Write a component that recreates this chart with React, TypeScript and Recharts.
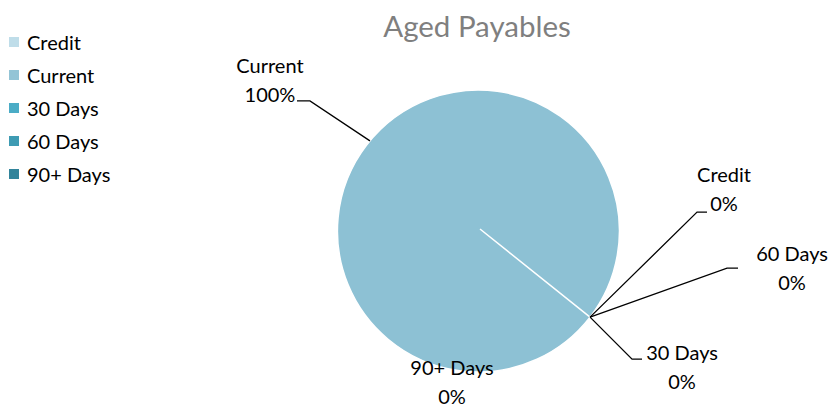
import { PieChart, Pie, Cell } from 'recharts';

const categories = ['Credit', 'Current', '30 Days', '60 Days', '90+ Days'];
const values = [0, 100, 0, 0, 0];
const percentLabels = ['0%', '100%', '0%', '0%', '0%'];

const LEGEND_COLORS = ['#bfdde9', '#93c4d6', '#4bacc6', '#3e9bb3', '#31849b'];
const SLICE_COLORS = ['#bfdde9', '#8dc1d4', '#4bacc6', '#3e9bb3', '#31849b'];

const FONT = 'Lato, "Open Sans", sans-serif';

// leader-line elbow and label text offsets, relative to the slice's edge point
const LABEL_LAYOUT: Record<string, { ex: number; ey: number; hx: number; tx: number; ty: number; line: boolean }> = {
  Credit: { ex: 107, ey: -105, hx: 10, tx: 134, ty: -128, line: true },
  Current: { ex: -60, ey: -40, hx: -13, tx: -100, ty: -61, line: true },
  '30 Days': { ex: 42, ey: 42, hx: 10, tx: 92, ty: 50, line: true },
  '60 Days': { ex: 137, ey: -49, hx: 11, tx: 202, ty: -49, line: true },
  '90+ Days': { ex: 0, ey: 0, hx: 0, tx: -138, ty: 65, line: false },
};

const chartData = categories.map((name, i) => ({ name, value: values[i], pct: percentLabels[i] }));

const RAD = Math.PI / 180;

function renderLabel(props: any) {
  const { cx, cy, midAngle, outerRadius, index } = props;
  const name = categories[index];
  const lay = LABEL_LAYOUT[name];
  const x0 = cx + outerRadius * Math.cos(-midAngle * RAD);
  const y0 = cy + outerRadius * Math.sin(-midAngle * RAD);
  const x1 = x0 + lay.ex;
  const y1 = y0 + lay.ey;
  const x2 = x1 + lay.hx;
  const tx = x0 + lay.tx;
  const ty = y0 + lay.ty;
  return (
    <g key={`lbl-${name}`}>
      {lay.line && (
        <polyline points={`${x0},${y0} ${x1},${y1} ${x2},${y1}`} fill="none" stroke="#000" strokeWidth={1.3} />
      )}
      <text x={tx} y={ty - 15} textAnchor="middle" dominantBaseline="central" fontFamily={FONT} fontSize={20} fill="#000">
        {name}
      </text>
      <text x={tx} y={ty + 14} textAnchor="middle" dominantBaseline="central" fontFamily={FONT} fontSize={20} fill="#000">
        {percentLabels[index]}
      </text>
    </g>
  );
}

function LegendBox() {
  return (
    <div style={{ position: 'absolute', left: 9, top: 25, fontFamily: FONT, fontSize: 20, color: '#000' }}>
      {categories.map((c, i) => (
        <div key={c} style={{ display: 'flex', alignItems: 'center', height: 33 }}>
          <span style={{ display: 'inline-block', width: 10, height: 10, background: LEGEND_COLORS[i], marginRight: 8 }} />
          <span>{c}</span>
        </div>
      ))}
    </div>
  );
}

export default function App() {
  return (
    <div style={{ position: 'absolute', left: 0, top: 0, width: 833, height: 409, background: '#fff' }}>
      <PieChart width={833} height={409} margin={{ top: 0, right: 0, bottom: 0, left: 0 }}>
        <text x={477} y={25} textAnchor="middle" dominantBaseline="central" fontFamily={FONT} fontSize={29.5} fill="#7f7f7f">
          Aged Payables
        </text>
        <Pie
          data={chartData}
          dataKey="value"
          nameKey="name"
          cx={480}
          cy={229}
          outerRadius={141}
          startAngle={-38.7}
          endAngle={-398.7}
          stroke="#fff"
          strokeWidth={1.5}
          label={renderLabel}
          labelLine={false}
          isAnimationActive={false}
        >
          {chartData.map((d, i) => (
            <Cell key={d.name} fill={SLICE_COLORS[i]} />
          ))}
        </Pie>
      </PieChart>
      <LegendBox />
    </div>
  );
}
